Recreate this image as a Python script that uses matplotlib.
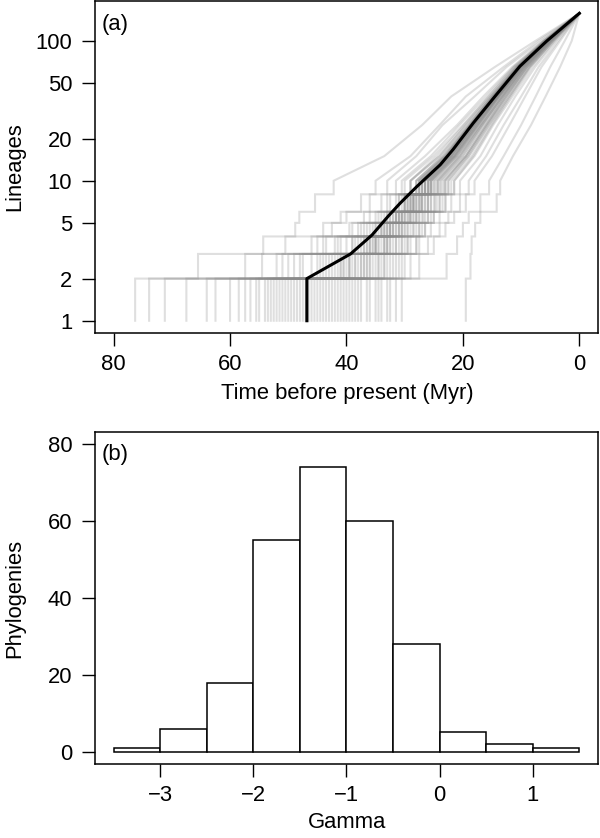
import matplotlib
matplotlib.use("Agg")
import matplotlib.pyplot as plt

plt.rcParams["font.family"] = ["Liberation Sans", "DejaVu Sans"]
plt.rcParams["font.size"] = 15.8

# ── (a) lineage-through-time curves ─────────────────────────────────────────
# times (Myr) at which each tree reaches the given lineage counts
STEP_LEVELS = [2, 3, 4, 5, 6, 8, 10]        # drawn as steps
LINE_LEVELS = [15, 25, 40, 65, 100]          # drawn as lines
N_TIPS = 157

tree_times = [
    [76.3, 65.5, 54.3, 48.8, 48.1, 45.4, 42.2, 33.5, 27.0, 22.0, 14.5, 7.5],
    [73.9, 57.4, 50.5, 44.0, 41.0, 37.5, 35.0, 29.0, 24.0, 19.5, 13.0, 7.0],
    [71.2, 54.5, 46.0, 42.5, 40.0, 36.0, 33.0, 28.0, 23.5, 18.0, 12.5, 6.5],
    [67.5, 52.0, 44.0, 39.5, 37.0, 34.0, 31.5, 26.5, 21.0, 16.5, 11.5, 6.2],
    [64.0, 51.0, 41.5, 37.5, 34.5, 31.5, 29.0, 24.0, 19.4, 15.2, 10.8, 5.9],
    [62.5, 50.0, 43.5, 38.0, 35.0, 32.5, 30.0, 25.0, 20.0, 15.5, 11.0, 5.8],
    [60.0, 49.0, 45.0, 39.0, 36.0, 33.0, 30.5, 25.5, 20.6, 16.0, 11.3, 6.1],
    [58.5, 46.0, 41.0, 36.0, 33.0, 30.0, 27.5, 23.0, 18.8, 14.8, 10.6, 5.8],
    [57.4, 47.5, 42.0, 37.0, 34.0, 31.0, 29.0, 24.5, 19.8, 15.6, 11.2, 6.0],
    [56.5, 48.0, 39.0, 34.0, 31.5, 29.0, 27.0, 22.8, 18.6, 14.6, 10.4, 5.6],
    [55.5, 45.0, 40.0, 36.5, 33.5, 30.5, 28.0, 23.5, 19.0, 15.0, 10.5, 5.7],
    [55.0, 43.5, 37.0, 33.5, 31.0, 28.5, 26.5, 22.0, 18.2, 14.3, 10.2, 5.5],
    [54.0, 44.5, 38.5, 35.0, 32.0, 30.0, 27.5, 23.0, 18.5, 14.5, 10.2, 5.5],
    [53.5, 41.0, 36.0, 32.5, 30.5, 28.0, 26.0, 21.8, 17.8, 14.0, 10.0, 5.4],
    [53.0, 43.0, 37.5, 34.5, 32.5, 29.5, 27.0, 22.5, 18.5, 14.8, 10.5, 5.8],
    [52.5, 44.0, 39.0, 35.0, 32.5, 30.0, 28.0, 23.2, 18.9, 14.9, 10.6, 5.8],
    [52.0, 42.0, 38.0, 35.5, 33.0, 31.0, 29.0, 24.0, 19.5, 15.2, 10.8, 5.9],
    [51.5, 39.5, 35.0, 32.0, 30.0, 27.5, 25.5, 21.3, 17.4, 13.7, 9.7, 5.2],
    [51.0, 41.5, 36.5, 33.5, 31.5, 29.0, 26.5, 22.0, 18.0, 14.0, 10.0, 5.4],
    [50.5, 42.5, 37.0, 34.0, 31.5, 29.5, 27.5, 23.0, 18.7, 14.7, 10.5, 5.7],
    [50.0, 40.5, 36.0, 33.0, 31.0, 28.5, 26.0, 21.5, 17.5, 14.0, 10.0, 5.5],
    [49.5, 41.0, 35.5, 32.5, 30.5, 28.5, 26.5, 22.2, 18.1, 14.2, 10.1, 5.5],
    [49.0, 40.0, 35.0, 32.0, 30.0, 28.0, 26.0, 22.0, 18.0, 14.5, 10.3, 5.6],
    [48.5, 37.0, 33.0, 30.5, 28.5, 26.5, 24.8, 20.8, 17.0, 13.4, 9.5, 5.1],
    [48.0, 39.5, 36.5, 34.0, 32.0, 30.0, 28.0, 23.5, 19.0, 15.0, 10.8, 6.0],
    [47.5, 40.5, 36.0, 33.5, 31.5, 29.5, 27.5, 23.0, 18.8, 14.8, 10.6, 5.8],
    [47.0, 38.5, 34.5, 32.5, 30.5, 28.0, 26.0, 21.5, 17.5, 13.8, 9.8, 5.2],
    [46.5, 37.5, 33.5, 31.0, 29.0, 27.0, 25.2, 21.2, 17.4, 13.8, 9.8, 5.3],
    [46.0, 39.0, 35.0, 33.0, 31.0, 29.0, 27.0, 22.5, 18.3, 14.5, 10.3, 5.6],
    [45.5, 39.5, 35.5, 33.0, 31.0, 29.0, 27.0, 22.6, 18.5, 14.6, 10.4, 5.7],
    [45.0, 37.5, 34.0, 31.5, 29.5, 27.5, 25.5, 21.0, 17.0, 13.5, 9.5, 5.0],
    [44.5, 36.0, 32.5, 30.0, 28.0, 26.0, 24.3, 20.4, 16.7, 13.2, 9.4, 5.0],
    [44.0, 38.0, 33.5, 31.0, 29.0, 27.0, 25.0, 21.0, 17.2, 13.8, 9.8, 5.3],
    [43.5, 38.5, 35.0, 32.5, 30.5, 28.5, 26.5, 22.3, 18.2, 14.4, 10.3, 5.6],
    [43.0, 36.5, 34.5, 32.0, 30.0, 28.5, 26.5, 22.0, 18.0, 14.2, 10.0, 5.5],
    [42.5, 34.5, 31.5, 29.5, 27.5, 25.5, 23.8, 20.0, 16.4, 13.0, 9.2, 4.9],
    [42.0, 36.0, 33.0, 30.5, 28.5, 26.5, 24.5, 20.5, 16.8, 13.2, 9.4, 5.0],
    [41.5, 37.0, 33.5, 31.5, 29.5, 27.5, 25.8, 21.7, 17.8, 14.1, 10.1, 5.5],
    [41.0, 35.0, 32.0, 30.0, 28.0, 26.0, 24.0, 20.0, 16.5, 13.0, 9.3, 5.0],
    [40.5, 33.5, 30.5, 28.5, 26.8, 24.8, 23.2, 19.5, 16.0, 12.7, 9.0, 4.8],
    [40.0, 35.5, 32.5, 30.5, 29.0, 27.0, 25.5, 21.5, 17.8, 14.0, 10.0, 5.4],
    [39.5, 36.5, 33.0, 31.0, 29.2, 27.2, 25.5, 21.4, 17.5, 13.9, 9.9, 5.4],
    [39.0, 34.0, 31.0, 29.0, 27.5, 25.5, 23.5, 19.5, 16.0, 12.5, 9.0, 4.8],
    [38.5, 32.5, 29.5, 27.5, 26.0, 24.0, 22.5, 19.0, 15.6, 12.3, 8.7, 4.6],
    [38.0, 33.5, 30.5, 28.5, 27.0, 25.0, 23.0, 19.5, 16.0, 12.8, 9.0, 4.8],
    [37.5, 34.5, 31.5, 29.5, 28.0, 26.0, 24.3, 20.5, 16.8, 13.3, 9.5, 5.1],
    [36.5, 32.0, 29.5, 27.5, 26.0, 24.0, 22.5, 19.0, 15.5, 12.0, 8.5, 4.5],
    [36.0, 33.0, 30.0, 28.0, 26.5, 24.5, 23.0, 19.3, 15.8, 12.5, 8.9, 4.7],
    [35.0, 31.0, 28.0, 26.5, 25.0, 23.0, 21.5, 18.0, 14.8, 11.5, 8.0, 4.2],
    [34.5, 31.5, 29.0, 27.0, 25.5, 23.5, 22.0, 18.5, 15.2, 12.0, 8.5, 4.5],
    [34.0, 30.0, 27.5, 25.5, 24.0, 22.0, 20.5, 17.0, 14.0, 11.0, 7.6, 4.0],
    [33.0, 30.5, 28.0, 26.5, 25.0, 23.0, 21.5, 18.2, 15.0, 11.8, 8.4, 4.4],
    [32.5, 29.0, 26.0, 24.0, 22.5, 20.5, 19.0, 16.0, 13.0, 10.0, 7.0, 3.6],
    [31.5, 27.5, 25.0, 23.0, 21.5, 19.5, 18.0, 15.0, 12.0, 9.3, 6.5, 3.3],
    [30.5, 22.8, 21.0, 20.0, 19.0, 17.0, 15.5, 13.0, 10.0, 7.5, 5.0, 2.5],
    [19.5, 18.7, 18.5, 17.9, 17.0, 14.2, 13.6, 11.4, 8.3, 5.8, 3.3, 1.3],
]

# mean curve (black)
mean_t = [46.8, 46.8, 39.3, 35.6, 32.8, 30.8, 27.9, 23.9, 21.7, 18.2, 14.5, 10.2, 5.6, 0]
mean_n = [1, 2, 3, 4.1, 5.6, 6.9, 9.1, 13.0, 16.7, 25.9, 40, 65.8, 99.5, 157]

# ── (b) gamma histogram ─────────────────────────────────────────────────────
gamma_edges = [-3.5, -3.0, -2.5, -2.0, -1.5, -1.0, -0.5, 0.0, 0.5, 1.0, 1.5]
gamma_counts = [1, 6, 18, 55, 74, 60, 28, 5, 2, 1]

fig = plt.figure(figsize=(6, 8.38), dpi=100)
ax = fig.add_axes([0.1583, 0.6026, 0.8383, 0.3962])
axh = fig.add_axes([0.1583, 0.0883, 0.8383, 0.3962])

for row in tree_times:
    xs, ys = [row[0]], [1]
    prev = 1
    for lvl, t in zip(STEP_LEVELS, row[:len(STEP_LEVELS)]):
        xs += [t, t]
        ys += [prev, lvl]
        prev = lvl
    xs += row[len(STEP_LEVELS):] + [0]
    ys += LINE_LEVELS + [N_TIPS]
    ax.plot(xs, ys, color="#8a8a8a", alpha=0.27, lw=1.5, solid_joinstyle="miter")

ax.plot(mean_t, mean_n, color="black", lw=2.2)

ax.set_yscale("log")
ax.set_ylim(0.817, 192.3)
ax.set_xlim(83.2, -3.2)
ax.set_yticks([1, 2, 5, 10, 20, 50, 100])
ax.set_yticklabels(["1", "2", "5", "10", "20", "50", "100"])
ax.minorticks_off()
ax.set_xticks([80, 60, 40, 20, 0])
ax.set_xlabel("Time before present (Myr)", va="center")
ax.xaxis.set_label_coords(0.501, -0.181)
ax.set_ylabel("Lineages", va="center")
ax.yaxis.set_label_coords(-0.159, 0.5)
ax.text(0.0125, 0.928, "(a)", transform=ax.transAxes, ha="left", va="center")

axh.bar(gamma_edges[:-1], gamma_counts, width=0.5, align="edge",
        facecolor="white", edgecolor="black", linewidth=1.1)
axh.set_xlim(-3.7, 1.7)
axh.set_ylim(-3.2, 83.2)
axh.set_yticks([0, 20, 40, 60, 80])
axh.set_xticks([-3, -2, -1, 0, 1])
axh.set_xlabel("Gamma", va="center")
axh.xaxis.set_label_coords(0.501, -0.175)
axh.set_ylabel("Phylogenies", va="center")
axh.yaxis.set_label_coords(-0.159, 0.5)
axh.text(0.0125, 0.931, "(b)", transform=axh.transAxes, ha="left", va="center")

for a in (ax, axh):
    for s in a.spines.values():
        s.set_linewidth(1.1)
    a.tick_params(length=9.4, width=1.0, pad=5.5, direction="out")
    a.tick_params(axis="y", pad=7)

fig.savefig("out.png", dpi=100)
